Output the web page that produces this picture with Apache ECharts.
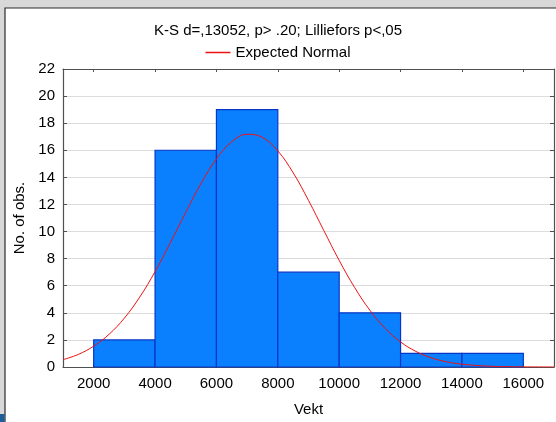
<!DOCTYPE html>
<html>
<head>
<meta charset="utf-8">
<script src="https://cdn.jsdelivr.net/npm/echarts@6/dist/echarts.min.js"></script>
<style>
html,body{margin:0;padding:0;background:#d8d8d8;}
#c{width:556px;height:422px;}
</style>
</head>
<body>
<div id="c"></div>
<script>
// Histogram bins (Vekt) and counts
const binStart = [2000, 4000, 6000, 8000, 10000, 12000, 14000];
const binEnd   = [4000, 6000, 8000, 10000, 12000, 14000, 16000];
const counts   = [2, 16, 19, 7, 4, 1, 1];

// Expected Normal curve
const curveX = [1000, 1500, 2000, 2500, 3000, 3500, 4000, 4500, 5000, 5500, 6000, 6500, 7000, 7500,
                8000, 8500, 9000, 9500, 10000, 10500, 11000, 11500, 12000, 12500, 13000, 13500,
                14000, 14500, 15000, 15500, 16000, 16500, 17000];
const curveY = [0.54, 0.93, 1.54, 2.41, 3.61, 5.16, 7.04, 9.18, 11.42, 13.56, 15.37, 16.63, 17.18, 16.95,
                15.95, 14.34, 12.30, 10.07, 7.87, 5.88, 4.19, 2.85, 1.85, 1.15, 0.68, 0.38,
                0.21, 0.11, 0.05, 0.02, 0.01, 0.005, 0.002];

const xTickLabels = [2000, 4000, 6000, 8000, 10000, 12000, 14000, 16000];
const yTickStep = 2;

const titleText = 'K-S d=,13052, p> .20; Lilliefors p<,05';
const legendText = 'Expected Normal';
const xName = 'Vekt';
const yName = 'No. of obs.';

const FONT = '"Liberation Sans", Arial, sans-serif';
const FS = 15;
const chart = echarts.init(document.getElementById('c'));

const frameColor = '#505050';

chart.setOption({
  backgroundColor: '#d8d8d8',
  animation: false,
  textStyle: { fontFamily: FONT },
  graphic: [
    { type: 'rect', shape: { x: 5, y: 8, width: 560, height: 420 },
      style: { fill: '#ffffff', stroke: '#2a2a2a', lineWidth: 1.2 }, z: -10 },
    { type: 'rect', shape: { x: 0, y: 414, width: 4.5, height: 8 },
      style: { fill: '#1c5f98' }, z: -10 }
  ],
  title: {
    text: titleText,
    left: 'center',
    top: 18,
    textStyle: { fontFamily: FONT, fontSize: FS, fontWeight: 'normal', color: '#000' }
  },
  legend: {
    top: 40,
    left: 'center',
    itemWidth: 25,
    itemHeight: 1.5,
    itemGap: 10,
    icon: 'rect',
    textStyle: { fontFamily: FONT, fontSize: FS, color: '#000' },
    data: [legendText]
  },
  grid: { left: 63, right: 2, top: 69, bottom: 50, containLabel: false },
  xAxis: [
    {
      type: 'value', min: 1000, max: 17000, position: 'bottom',
      name: xName, nameLocation: 'middle', nameGap: 35,
      nameTextStyle: { fontFamily: FONT, fontSize: FS, color: '#000' },
      axisLine: { show: true, onZero: false, lineStyle: { color: frameColor, width: 1.2 } },
      axisTick: { show: true, inside: true, length: 4, customValues: xTickLabels, lineStyle: { color: frameColor } },
      axisLabel: { customValues: xTickLabels, margin: 9, fontFamily: FONT, fontSize: FS, color: '#000',
                   formatter: function (v) { return String(v); } },
      splitLine: { show: false }
    },
    {
      type: 'value', min: 1000, max: 17000, position: 'top',
      axisLine: { show: true, onZero: false, lineStyle: { color: frameColor, width: 1.2 } },
      axisTick: { show: true, inside: true, length: 3, customValues: xTickLabels, lineStyle: { color: frameColor } },
      axisLabel: { show: false },
      splitLine: { show: false }
    }
  ],
  yAxis: [
    {
      type: 'value', min: 0, max: 22, interval: yTickStep, position: 'left',
      name: yName, nameLocation: 'middle', nameGap: 31, nameRotate: 90,
      nameTextStyle: { fontFamily: FONT, fontSize: FS, color: '#000' },
      axisLine: { show: true, onZero: false, lineStyle: { color: frameColor, width: 1.2 } },
      axisTick: { show: true, inside: true, length: 4, lineStyle: { color: frameColor } },
      axisLabel: { margin: 8, fontFamily: FONT, fontSize: FS, color: '#000' },
      splitLine: { show: true, lineStyle: { color: '#dcdcdc', width: 1 } }
    },
    {
      type: 'value', min: 0, max: 22, interval: yTickStep, position: 'right',
      axisLine: { show: true, onZero: false, lineStyle: { color: frameColor, width: 1.2 } },
      axisTick: { show: true, inside: true, length: 4, lineStyle: { color: frameColor } },
      axisLabel: { show: false },
      splitLine: { show: false }
    }
  ],
  series: [
    {
      type: 'custom',
      name: 'hist',
      xAxisIndex: 0, yAxisIndex: 0,
      data: binStart.map((s, i) => [s, binEnd[i], counts[i]]),
      encode: { x: [0, 1], y: 2 },
      renderItem: function (params, api) {
        const p0 = api.coord([api.value(0), api.value(2)]);
        const p1 = api.coord([api.value(1), 0]);
        return {
          type: 'rect',
          shape: { x: p0[0], y: p0[1], width: p1[0] - p0[0], height: p1[1] - p0[1] },
          style: { fill: '#0a80ff', stroke: '#0836c4', lineWidth: 1.2 }
        };
      },
      z: 2
    },
    {
      type: 'line',
      name: legendText,
      xAxisIndex: 0, yAxisIndex: 0,
      data: curveX.map((x, i) => [x, curveY[i]]),
      smooth: 0.4,
      showSymbol: false,
      symbol: 'none',
      lineStyle: { color: '#ee1111', width: 1 },
      itemStyle: { color: '#ee1111' },
      z: 5
    }
  ]
});
</script>
</body>
</html>
